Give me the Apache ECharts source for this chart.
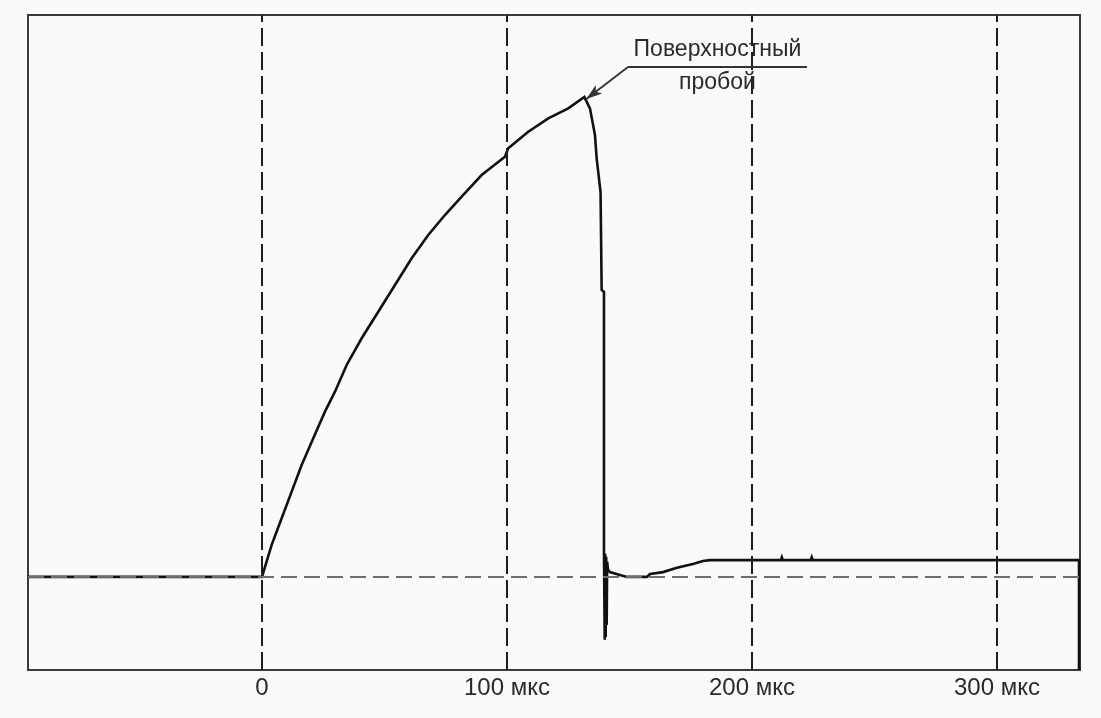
<!DOCTYPE html>
<html>
<head>
<meta charset="utf-8">
<script src="https://cdn.jsdelivr.net/npm/echarts@6/dist/echarts.min.js"></script>
<style>
  html, body { margin: 0; padding: 0; background: #fafafa; }
  #chart { width: 1101px; height: 718px; }
</style>
</head>
<body>
<div id="chart"></div>
<script>
window.addEventListener('load', function () {

    // время, мкс
    const timeUs = [-95.5, 0, 3.96, 8.04, 12.12, 16.2, 20.94, 25.71, 29.8, 34.57, 40.69, 47.47,
        54.29, 61.1, 67.88, 74.69, 81.51, 89.67, 99.18, 100.53, 108.69, 116.86, 125.02, 131.6,
        133.88, 135.92, 136.61, 138.2, 138.65, 139.6, 139.6,
        139.9, 140.1, 140.3, 140.5, 140.7, 140.9, 141.2, 142.0, 146.1, 149.0, 157.1, 158.4,
        163.7, 169.4, 175.9, 180.0, 182.9, 211.8, 212.2, 212.6, 224.0, 224.4, 224.8, 333.5, 333.5];
    // напряжение, % от пика
    const signal = [0, 0, 6.67, 12.23, 17.77, 23.33, 28.9, 34.44, 38.6, 44.17, 49.73, 55.27,
        60.83, 66.4, 71.25, 75.42, 79.23, 83.75, 87.56, 89.31, 92.77, 95.56, 97.65, 100,
        97.65, 92.08, 87.23, 80.2, 59.8, 59.4, 5.0,
        -13.1, 4.8, -12.5, 4.2, -10.0, 3.2, 1.6, 1.0, 0.4, 0, 0, 0.6,
        1.0, 1.9, 2.7, 3.3, 3.5, 3.5, 4.1, 3.5, 3.5, 4.1, 3.5, 3.5, -19.4];
    const gridTicks = [0, 100, 200, 300];
    const breakdownPoint = [132.4, 99.6];
    const leaderElbow = [149.4, 106.25];
    const leaderEnd = [222.4, 106.25];

    const trace = timeUs.map(function (t, i) { return [t, signal[i]]; });

    let chart = echarts.init(document.getElementById('chart'));

    let option = {
        animation: false,
        backgroundColor: '#fafafa',
        grid: {
            left: 28, right: 21, top: 15, bottom: 48,
            show: true,
            borderColor: '#3a3a3a',
            borderWidth: 2
        },
        xAxis: {
            type: 'value',
            min: -95.5,
            max: 333.9,
            axisLine: { show: false },
            axisTick: { show: false },
            splitLine: { show: false },
            axisLabel: {
                customValues: gridTicks,
                margin: 6,
                fontSize: 24,
                fontFamily: 'Liberation Sans, Arial, sans-serif',
                color: '#2a2a2a',
                formatter: function (v) { return v === 0 ? '0' : v + ' мкс'; }
            }
        },
        yAxis: {
            type: 'value',
            min: -19.4,
            max: 117.1,
            axisLine: { show: false },
            axisTick: { show: false },
            axisLabel: { show: false },
            splitLine: { show: false }
        },
        series: [{
            // сетка: штриховые линии
            type: 'line',
            data: [],
            z: 1,
            markLine: {
                silent: true,
                symbol: 'none',
                label: { show: false },
                data: gridTicks.map(function (v) {
                    return {
                        xAxis: v,
                        lineStyle: { color: '#1e1e1e', width: 2, type: [18, 6] }
                    };
                }).concat([{
                    yAxis: 0,
                    lineStyle: { color: '#6e6e6e', width: 2, type: [16, 7] }
                }])
            }
        }, {
            type: 'line',
            data: trace,
            z: 3,
            showSymbol: false,
            symbol: 'none',
            lineStyle: { color: '#111', width: 2.6, join: 'miter' },
            markLine: {
                silent: true,
                symbol: 'none',
                lineStyle: { color: '#333', width: 1.8, type: 'solid' },
                label: {
                    fontSize: 23,
                    fontFamily: 'Liberation Sans, Arial, sans-serif',
                    color: '#2a2a2a'
                },
                data: [
                    [{ coord: leaderElbow, symbol: 'none', label: { show: false } },
                     { coord: breakdownPoint, symbol: 'arrow', symbolSize: [8, 16] }],
                    [{ coord: leaderElbow, label: { show: true, position: 'insideMiddleTop', distance: 6, formatter: 'Поверхностный' } },
                     { coord: leaderEnd }],
                    [{ coord: leaderElbow, label: { show: true, position: 'insideMiddleBottom', distance: 4, formatter: 'пробой' } },
                     { coord: leaderEnd }]
                ]
            }
        }]
    };

    chart.setOption(option);
});
</script>
</body>
</html>
